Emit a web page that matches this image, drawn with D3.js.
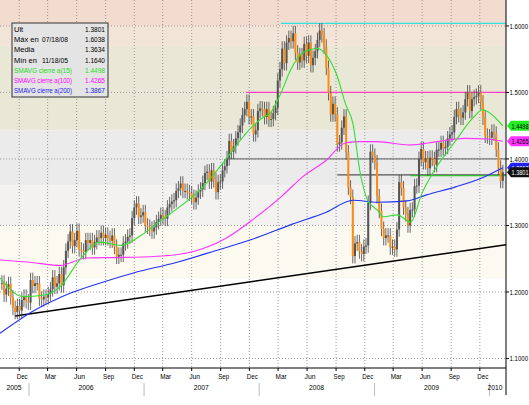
<!DOCTYPE html>
<html><head><meta charset="utf-8">
<script src="https://cdn.jsdelivr.net/npm/d3@7"></script>
<style>
body{margin:0;background:#fff;}
svg text{font-family:"Liberation Sans",Arial,sans-serif;}
</style></head>
<body><svg id="chart" width="529" height="405"></svg>
<script>
// weekly closes, Fridays from 2005-10-07 to 2010-02-12
const closes = [
  1.214,1.196,1.205,1.212, 1.192,1.176,1.170,1.179, 1.172,1.188,1.193,1.186,1.184,
  1.218,1.209,1.213,1.213, 1.190,1.189,1.193,1.192, 1.197,1.204,1.222,1.208,1.213,
  1.227,1.210,1.237,1.262, 1.276,1.291,1.269,1.278, 1.292,1.264,1.262,1.260,1.278,
  1.274,1.278,1.267,1.275, 1.282,1.281,1.289,1.281, 1.286,1.281,1.277,1.285,1.268,
  1.253,1.256,1.256,1.273, 1.276,1.283,1.285,1.311, 1.327,1.333,1.313,1.315,1.320,
  1.300,1.298,1.295,1.291, 1.297,1.305,1.310,1.316, 1.312,1.310,1.327,1.332,1.336,
  1.338,1.352,1.356,1.363, 1.352,1.352,1.350,1.348, 1.343,1.335,1.342,1.351,1.354,
  1.364,1.379,1.381,1.366, 1.383,1.368,1.350,1.365,1.366, 1.383,1.389,1.401,1.427,
  1.411,1.419,1.431,1.440, 1.450,1.466,1.475,1.486,1.463, 1.464,1.437,1.443,1.472,
  1.476,1.475,1.463,1.475, 1.459,1.460,1.469,1.477,1.518, 1.535,1.566,1.544,1.575,
  1.582,1.577,1.589,1.560, 1.545,1.556,1.548,1.573,1.555, 1.575,1.541,1.552,1.562,
  1.579,1.593,1.586,1.569, 1.537,1.499,1.467,1.483,1.467, 1.422,1.425,1.447,1.464,
  1.410,1.357,1.343,1.254,1.273, 1.275,1.261,1.257,1.268, 1.270,1.334,1.411,1.405,
  1.395,1.344,1.322,1.295,1.281, 1.285,1.285,1.267,1.268, 1.264,1.294,1.365,1.356,
  1.327,1.317,1.300,1.323, 1.324,1.359,1.360,1.400,1.415, 1.395,1.401,1.386,1.402,
  1.400,1.391,1.414,1.414,1.424, 1.416,1.418,1.431,1.437, 1.440,1.463,1.475,1.466,
  1.462,1.470,1.490,1.500,1.472, 1.490,1.493,1.495,1.500, 1.485,1.462,1.435,1.434,
  1.432,1.441,1.438,1.414,1.387, 1.367,1.3801
];
const wick = 0.011;

// moving averages: [date, value]
const sma15 = [["2005-10-01",1.221],["2005-12-15",1.193],["2006-02-15",1.195],["2006-04-10",1.208],["2006-06-10",1.248],["2006-08-15",1.275],["2006-10-20",1.270],["2006-12-25",1.286],["2007-02-25",1.308],["2007-04-10",1.323],["2007-07-05",1.357],["2007-09-10",1.395],["2007-12-01",1.444],["2008-01-15",1.463],["2008-02-05",1.469],["2008-03-10",1.499],["2008-04-10",1.534],["2008-05-20",1.560],["2008-07-05",1.566],["2008-07-25",1.560],["2008-09-05",1.524],["2008-09-30",1.484],["2008-10-25",1.452],["2008-11-15",1.383],["2008-12-10",1.338],["2009-01-10",1.323],["2009-01-30",1.313],["2009-03-15",1.316],["2009-04-25",1.305],["2009-06-01",1.349],["2009-07-10",1.383],["2009-09-10",1.424],["2009-11-10",1.462],["2009-12-10",1.474],["2009-12-30",1.470],["2010-02-12",1.4498]];
const sma100 = [["2005-10-01",1.248],["2006-01-15",1.244],["2006-04-10",1.240],["2006-07-01",1.251],["2006-11-01",1.252],["2007-03-01",1.254],["2007-06-15",1.262],["2007-09-15",1.280],["2007-12-15",1.310],["2008-03-15",1.345],["2008-05-15",1.372],["2008-08-01",1.398],["2008-09-30",1.424],["2008-11-15",1.426],["2009-01-10",1.426],["2009-04-20",1.421],["2009-07-20",1.426],["2009-10-15",1.431],["2009-12-25",1.430],["2010-02-12",1.4265]];
const sma200 = [["2005-10-01",1.138],["2006-01-20",1.173],["2006-04-15",1.193],["2006-08-25",1.215],["2006-12-01",1.229],["2007-04-10",1.244],["2007-08-15",1.262],["2007-12-15",1.280],["2008-04-15",1.302],["2008-08-01",1.320],["2008-10-25",1.338],["2009-01-10",1.335],["2009-04-15",1.337],["2009-06-15",1.346],["2009-09-15",1.358],["2009-12-15",1.373],["2010-02-12",1.3867]];
const trend = [["2005-11-18",1.164],["2010-02-22",1.271]];

const yTicks = [1.1, 1.2, 1.3, 1.4, 1.5, 1.6];
const bands = [[1.6,1.7,"#f2dccf"],[1.57,1.6,"#f3e4d8"],[1.443,1.57,"#e9e7d6"],[1.36,1.443,"#ebebeb"],[1.3,1.36,"#f3f2f0"],[1.22,1.3,"#fcf9f1"]];
const hLines = [["2008-03-10",1.6038,"#33e0e0"],["2007-11-20",1.5,"#ff40c0"],["2007-09-20",1.4,"#777"],["2008-09-05",1.376,"#555"],["2009-04-25",1.375,"#30c030"]];
const legendRows = [["Ult","","1.3801","#000"],["Máx en","07/18/08","1.6038","#000"],["Media","","1.3634","#000"],["Mín en","11/18/05","1.1640","#000"],["SMAVG cierre a(15)","","1.4498","#22dd22"],["SMAVG cierre a(100)","","1.4265","#ff00ff"],["SMAVG cierre a(200)","","1.3867","#2222ee"]];
const tags = [[1.4498,"#22ee22","#000"],[1.4265,"#ff33ff","#000"],[1.3867,"#2222ee","#fff"],[1.3801,"#111","#fff"]];

const parse = d3.timeParse("%Y-%m-%d");
const svg = d3.select("#chart");
const W = 506, H = 368;
const x = d3.scaleTime().domain([parse("2005-10-01"), parse("2010-02-22")]).range([0, W]);
const y = d3.scaleLinear().domain([1.0857, 1.639]).range([H, 0]);

// narrow text helper (the original uses a condensed font)
function narrow(sel, len) {
  return sel.attr("textLength", len).attr("lengthAdjust", "spacingAndGlyphs");
}

// background bands
svg.selectAll(".band").data(bands).enter().append("rect")
  .attr("x", 0).attr("width", W)
  .attr("y", d => y(d[1])).attr("height", d => y(d[0]) - y(d[1]))
  .attr("fill", d => d[2]);

// grid
const qMonths = d3.timeMonth.range(parse("2005-12-01"), parse("2010-02-01")).filter(d => d.getMonth() % 3 === 2);
svg.selectAll(".vg").data(qMonths).enter().append("line")
  .attr("x1", d => x(d)).attr("x2", d => x(d)).attr("y1", 0).attr("y2", H)
  .attr("stroke", "#999").attr("stroke-dasharray", "1,2");
svg.selectAll(".hg").data(yTicks).enter().append("line")
  .attr("x1", 0).attr("x2", W).attr("y1", d => y(d)).attr("y2", d => y(d))
  .attr("stroke", "#999").attr("stroke-dasharray", "1,2");

// trend line
const line = d3.line().x(d => x(parse(d[0]))).y(d => y(d[1]));
svg.append("path").attr("d", line(trend)).attr("stroke", "#000").attr("stroke-width", 1.5).attr("fill", "none");

// horizontal levels
svg.selectAll(".hl").data(hLines).enter().append("line")
  .attr("x1", d => x(parse(d[0]))).attr("x2", W)
  .attr("y1", d => y(d[1])).attr("y2", d => y(d[1]))
  .attr("stroke", d => d[2]).attr("stroke-width", 1.3);

// candles
const dates = d3.timeFriday.range(parse("2005-10-07"), parse("2010-02-13"));
const candles = closes.map((c, i) => {
  const o = i ? closes[i - 1] : c;
  return { date: dates[i], o, c, h: Math.max(o, c) + wick, l: Math.min(o, c) - wick };
});
const g = svg.append("g");
g.selectAll(".wk").data(candles).enter().append("line")
  .attr("x1", d => x(d.date)).attr("x2", d => x(d.date))
  .attr("y1", d => y(d.h)).attr("y2", d => y(d.l))
  .attr("stroke", "#444").attr("stroke-width", 0.8);
g.selectAll(".bd").data(candles).enter().append("rect")
  .attr("x", d => x(d.date) - 1).attr("width", 2)
  .attr("y", d => y(Math.max(d.o, d.c)))
  .attr("height", d => Math.max(1, Math.abs(y(d.o) - y(d.c))))
  .attr("fill", d => d.c < d.o ? "#ff8c10" : "#555");

// moving averages
const curve = d3.line().curve(d3.curveMonotoneX).x(d => x(parse(d[0]))).y(d => y(d[1]));
[[sma100, "#ff33ff"], [sma200, "#2233ee"], [sma15, "#33dd33"]].forEach(([data, col]) => {
  svg.append("path").attr("d", curve(data)).attr("stroke", col).attr("stroke-width", 1.1).attr("fill", "none");
});

// frame / axes
svg.append("line").attr("x1", W).attr("x2", W).attr("y1", 0).attr("y2", 395).attr("stroke", "#000");
svg.append("line").attr("x1", 0).attr("x2", W).attr("y1", H).attr("y2", H).attr("stroke", "#000");
svg.selectAll(".yt").data(yTicks).enter().append("text")
  .attr("x", W + 3.5).attr("y", d => y(d) + 3).attr("font-size", 8).text(d => d.toFixed(4))
  .call(narrow, 18.5);
svg.selectAll(".ytk").data(yTicks).enter().append("line")
  .attr("x1", W).attr("x2", W + 3).attr("y1", d => y(d)).attr("y2", d => y(d)).attr("stroke", "#000");

// value tags on right axis
const tg = svg.selectAll(".tag").data(tags).enter().append("g")
  .attr("transform", d => `translate(${W + 1},${y(d[0])})`);
tg.append("path").attr("d", "M0,0 L4,-5 L22,-5 L22,5 L4,5 Z").attr("fill", d => d[1]);
tg.append("text").attr("x", 4.5).attr("y", 3).attr("font-size", 8).attr("fill", d => d[2])
  .text(d => d[0].toFixed(4)).call(narrow, 17);

// bottom axis
const mLab = d3.timeFormat("%b");
svg.selectAll(".xt").data(qMonths).enter().append("line")
  .attr("x1", d => x(d)).attr("x2", d => x(d)).attr("y1", H).attr("y2", H + 3).attr("stroke", "#000");
svg.selectAll(".xl").data(qMonths).enter().append("text")
  .attr("x", d => x(d) + 3).attr("y", H + 11).attr("text-anchor", "middle").attr("font-size", 8)
  .text(d => mLab(d)).call(narrow, 11);
const years = [2005, 2006, 2007, 2008, 2009, 2010];
svg.selectAll(".ys").data(years.slice(1)).enter().append("line")
  .attr("x1", d => x(new Date(d, 0, 1))).attr("x2", d => x(new Date(d, 0, 1)))
  .attr("y1", H + 15).attr("y2", H + 28).attr("stroke", "#bbb");
svg.selectAll(".yl").data(years).enter().append("text")
  .attr("x", d => d === 2005 ? 14 : d === 2010 ? 495 : x(new Date(d, 6, 1)))
  .attr("y", H + 22).attr("text-anchor", "middle").attr("font-size", 8)
  .text(d => d).call(narrow, 15);

// legend
const lg = svg.append("g").attr("transform", "translate(12,23)");
lg.append("rect").attr("width", 96).attr("height", 74).attr("fill", "#e4e4e4").attr("stroke", "#333");
legendRows.forEach((r, i) => {
  const ty = 9 + i * 10.2;
  const t = lg.append("text").attr("x", 2).attr("y", ty).attr("font-size", 7.5).attr("fill", r[3]).text(r[0]);
  if (r[0].length > 10) narrow(t, 58);
  if (r[1]) narrow(lg.append("text").attr("x", 30).attr("y", ty).attr("font-size", 7.5).attr("fill", r[3]).text(r[1]), 26);
  narrow(lg.append("text").attr("x", 93).attr("y", ty).attr("font-size", 7.5).attr("text-anchor", "end").attr("fill", r[3]).text(r[2]), 20);
});
</script></body></html>
